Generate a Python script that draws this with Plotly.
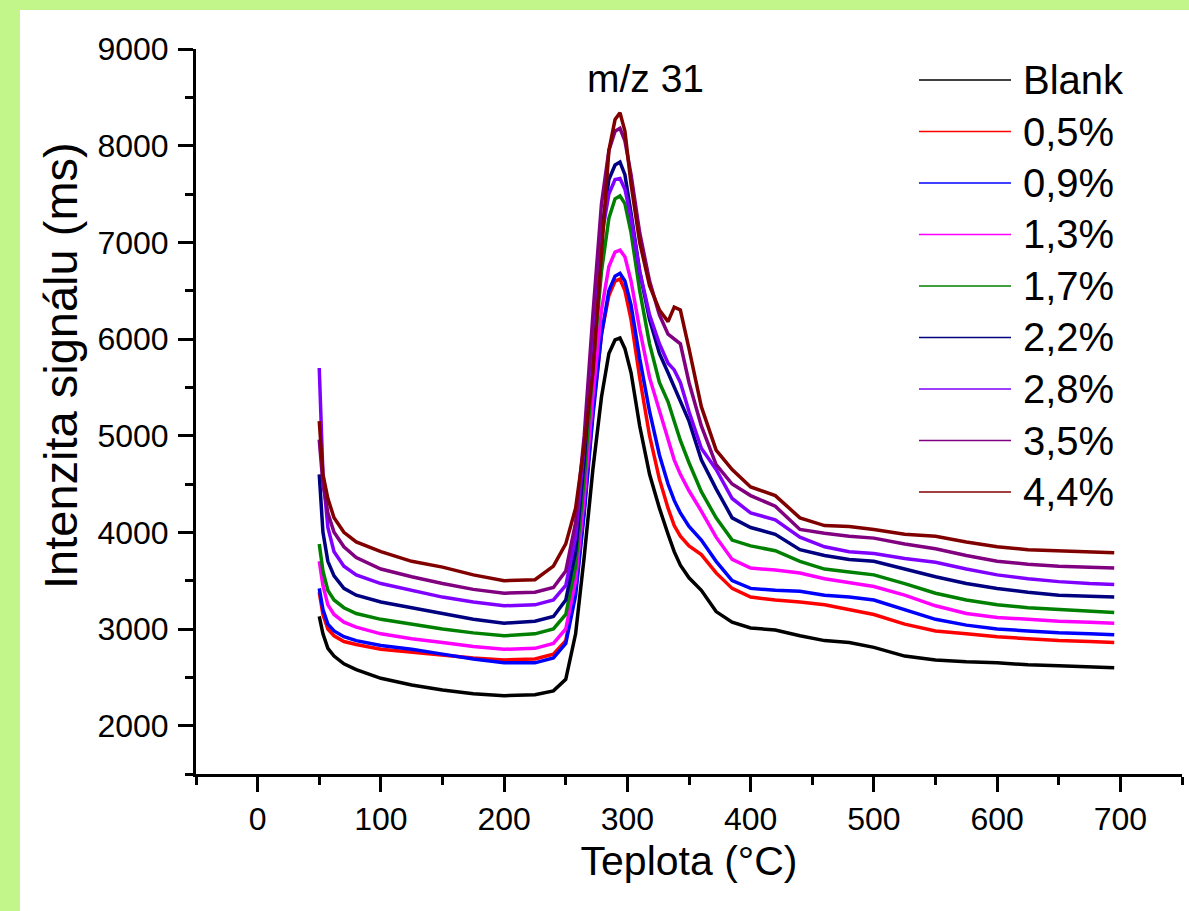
import plotly.graph_objects as go

# temperature grid (deg C)
teplota = [50, 53, 57, 62, 70, 80, 100, 125, 150, 175, 200, 225, 240, 250, 258, 265, 272, 279, 285, 290,
           294, 298, 303, 310, 318, 326, 333, 338, 343, 350, 360, 372, 385, 400, 420, 440, 460, 480, 500, 525,
           550, 575, 600, 625, 650, 675, 695]

blank = [3130, 2950, 2800, 2720, 2640, 2580, 2490, 2420, 2370, 2330, 2310, 2320, 2360, 2480, 2950, 3750, 4650, 5400, 5850, 5990,
         6010, 5900, 5650, 5100, 4600, 4250, 3980, 3800, 3660, 3530, 3400, 3180, 3070, 3010, 2990, 2930, 2880, 2860, 2810, 2720,
         2680, 2660, 2650, 2630, 2620, 2610, 2600]
p05 = [3380, 3150, 3000, 2930, 2870, 2840, 2790, 2760, 2730, 2700, 2680, 2690, 2740, 2880, 3400, 4250, 5250, 6050, 6450, 6600,
       6620, 6500, 6200, 5600, 5000, 4550, 4250, 4070, 3960, 3860, 3770, 3580, 3420, 3330, 3300, 3280, 3250, 3200, 3150, 3050,
       2980, 2950, 2920, 2900, 2880, 2870, 2860]
p09 = [3420, 3200, 3050, 2980, 2920, 2880, 2830, 2790, 2740, 2690, 2650, 2650, 2700, 2850, 3350, 4200, 5200, 6050, 6500, 6650,
       6680, 6600, 6350, 5800, 5250, 4800, 4500, 4330, 4200, 4060, 3920, 3700, 3500, 3420, 3400, 3390, 3350, 3330, 3300, 3200,
       3100, 3040, 3000, 2980, 2960, 2950, 2940]
p13 = [3700, 3450, 3250, 3150, 3070, 3020, 2950, 2900, 2860, 2820, 2790, 2800, 2850, 3000, 3500, 4350, 5400, 6300, 6750, 6900,
       6920, 6850, 6600, 6100, 5600, 5250, 4950, 4750, 4600, 4430, 4220, 3950, 3720, 3630, 3610, 3580, 3520, 3480, 3440, 3350,
       3240, 3160, 3120, 3100, 3080, 3070, 3060]
p17 = [3880, 3600, 3400, 3300, 3220, 3160, 3100, 3050, 3000, 2960, 2930, 2950, 3000, 3150, 3650, 4550, 5700, 6700, 7250, 7450,
       7480, 7400, 7100, 6500, 5950, 5550, 5350, 5150, 4950, 4720, 4420, 4150, 3920, 3860, 3810, 3700, 3620, 3590, 3560, 3470,
       3370, 3300, 3250, 3220, 3200, 3180, 3170]
p22 = [4600, 4000, 3700, 3550, 3420, 3350, 3280, 3220, 3160, 3100, 3060, 3080, 3130, 3300, 3800, 4750, 6000, 7100, 7650, 7800,
       7830, 7700, 7300, 6700, 6200, 5850, 5650, 5500, 5350, 5150, 4750, 4450, 4150, 4050, 3980, 3820, 3760, 3720, 3700, 3620,
       3540, 3470, 3420, 3380, 3350, 3340, 3330]
p28 = [5700, 4600, 4050, 3800, 3650, 3560, 3470, 3400, 3330, 3280, 3240, 3250, 3300, 3450, 3950, 4900, 6100, 7050, 7500, 7650,
       7660, 7550, 7250, 6700, 6250, 5950, 5750, 5680, 5550, 5250, 4870, 4650, 4350, 4200, 4130, 3950, 3850, 3800, 3780, 3730,
       3690, 3620, 3560, 3520, 3490, 3470, 3460]
p35 = [4960, 4500, 4200, 4000, 3850, 3740, 3620, 3540, 3470, 3410, 3370, 3380, 3430, 3600, 4100, 5000, 6250, 7400, 7950, 8150,
       8180, 8050, 7700, 7100, 6600, 6250, 6050, 6000, 5950, 5550, 5100, 4700, 4500, 4380, 4270, 4030, 3990, 3960, 3940, 3880,
       3830, 3760, 3700, 3670, 3650, 3640, 3630]
p44 = [5150, 4600, 4350, 4150, 4000, 3900, 3800, 3700, 3640, 3560, 3500, 3510, 3650, 3880, 4250, 4900, 5650, 6900, 7950, 8270,
       8340, 8150, 7600, 7000, 6550, 6300, 6180, 6330, 6300, 5900, 5300, 4850, 4650, 4470, 4380, 4150, 4070, 4060, 4030, 3980,
       3960, 3900, 3850, 3820, 3810, 3800, 3790]

nazvy = ["Blank", "0,5%", "0,9%", "1,3%", "1,7%", "2,2%", "2,8%", "3,5%", "4,4%"]
serie = [blank, p05, p09, p13, p17, p22, p28, p35, p44]
barvy = ["#000000", "#ff0000", "#0000ff", "#ff00ff", "#008000", "#000080", "#8000ff", "#800080", "#800000"]

FONT = "Arial, Liberation Sans, sans-serif"
W, H = 1189, 911
L, R, T, B = 196, 7, 49, 137

def px(x):
    return (x - L) / (W - L - R)

def py(y):
    return (H - B - y) / (H - T - B)

fig = go.Figure()
for nazev, s, c in zip(nazvy, serie, barvy):
    fig.add_trace(go.Scatter(x=teplota, y=s, mode="lines", name=nazev,
                             line=dict(color=c, width=3.5), showlegend=False))

# legend drawn by hand (long thin lines like the original)
shapes = []
annotations = []
for i, (nazev, c) in enumerate(zip(nazvy, barvy)):
    yy = 80 + i * 51.5
    shapes.append(dict(type="line", xref="paper", yref="paper", x0=px(919), x1=px(1011),
                       y0=py(yy), y1=py(yy), line=dict(color=c, width=1.5)))
    annotations.append(dict(text=nazev, xref="paper", yref="paper", x=px(1021), y=py(yy),
                            xanchor="left", yanchor="middle", showarrow=False,
                            font=dict(size=40, color="black", family=FONT)))

annotations.append(dict(text="m/z 31", xref="paper", yref="paper", x=px(645), y=py(78),
                        xanchor="center", yanchor="middle", showarrow=False,
                        font=dict(size=39, color="black", family=FONT)))

# y title sits higher than the axis middle in the original, so place it as an annotation
annotations.append(dict(text="Intenzita signálu (ms)", xref="paper", yref="paper", x=px(60), y=py(366),
                        textangle=-90, xanchor="center", yanchor="middle", showarrow=False,
                        font=dict(size=47, color="black", family=FONT)))

# green frame on the left and top
zelena = "#c2f58a"
shapes.append(dict(type="rect", xref="paper", yref="paper", x0=px(0), x1=px(20), y0=py(H), y1=py(0),
                   fillcolor=zelena, line=dict(width=0), layer="below"))
shapes.append(dict(type="rect", xref="paper", yref="paper", x0=px(0), x1=px(W), y0=py(10), y1=py(0),
                   fillcolor=zelena, line=dict(width=0), layer="below"))

fig.update_layout(
    width=W, height=H,
    margin=dict(l=L, r=R, t=T, b=B),
    paper_bgcolor="white", plot_bgcolor="white",
    font=dict(family=FONT, color="black"),
    shapes=shapes, annotations=annotations,
)
fig.update_xaxes(range=[-50, 750], tickvals=[0, 100, 200, 300, 400, 500, 600, 700],
                 showline=True, linecolor="black", linewidth=3, mirror=False,
                 ticks="outside", ticklen=15, tickwidth=3, tickcolor="black",
                 minor=dict(tickvals=[-50, 50, 150, 250, 350, 450, 550, 650, 750], ticks="outside",
                            ticklen=8, tickwidth=3, tickcolor="black"),
                 showgrid=False, zeroline=False, tickfont=dict(size=32),
                 title=dict(text="Teplota (°C)", font=dict(size=41), standoff=10))
fig.update_yaxes(range=[1500, 9000], tickvals=[2000, 3000, 4000, 5000, 6000, 7000, 8000, 9000],
                 showline=True, linecolor="black", linewidth=3, mirror=False,
                 ticks="outside", ticklen=15, tickwidth=3, tickcolor="black", ticklabelstandoff=3,
                 minor=dict(tickvals=[1500, 2500, 3500, 4500, 5500, 6500, 7500, 8500], ticks="outside",
                            ticklen=8, tickwidth=3, tickcolor="black"),
                 showgrid=False, zeroline=False, tickfont=dict(size=32))

# the page body has a default 8px margin; drop it so the figure sits at the window's corner
fig.write_html("out.html", config={"displayModeBar": False},
               post_script="document.body.style.margin='0';")
